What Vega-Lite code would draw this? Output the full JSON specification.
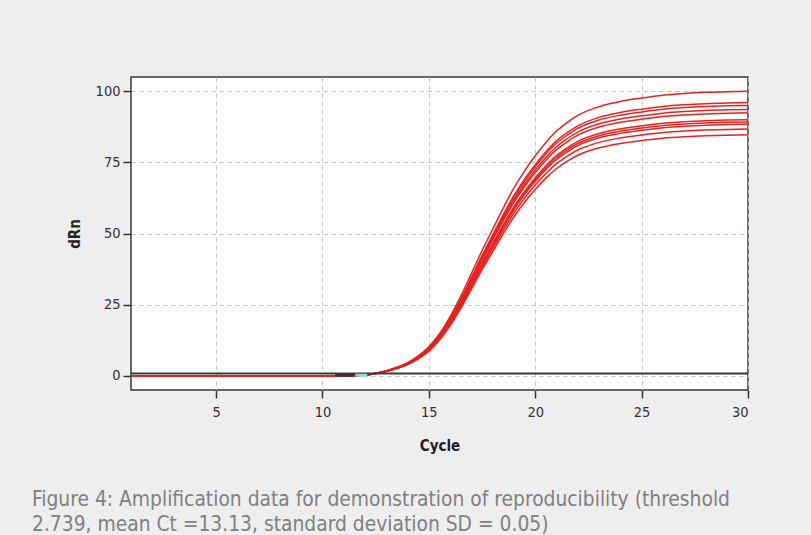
{
  "$schema": "https://vega.github.io/schema/vega-lite/v6.json",
  "autosize": "none",
  "width": 617,
  "height": 313,
  "padding": {"left": 131, "top": 77, "right": 63, "bottom": 145},
  "background": "#eeeeee",
  "config": {
    "view": {"stroke": "#3a3a3a", "strokeWidth": 1.5, "fill": "#ffffff"},
    "axis": {
      "grid": true,
      "gridDash": [4, 4],
      "gridColor": "#c9bfba",
      "gridWidth": 1,
      "domain": false,
      "tickColor": "#333333",
      "tickSize": 8,
      "tickWidth": 1.5,
      "labelFont": "DejaVu Sans Condensed",
      "labelFontSize": 14.5,
      "labelColor": "#333333",
      "titleFont": "DejaVu Sans Condensed",
      "titleFontSize": 15,
      "titleFontWeight": "bold",
      "titleColor": "#222222"
    }
  },
  "title": {
    "text": ["Figure 4: Amplification data for demonstration of reproducibility (threshold", "2.739, mean Ct =13.13, standard deviation SD = 0.05)"],
    "orient": "bottom",
    "anchor": "start",
    "frame": "group",
    "dx": -99,
    "offset": 36,
    "baseline": "top",
    "font": "DejaVu Sans Condensed",
    "fontSize": 20.8,
    "fontWeight": "normal",
    "color": "#808080",
    "lineHeight": 25.5
  },
  "datasets": {
    "curves": [
      {"x": 1, "a": 0, "b": 0, "c": 0, "d": 0, "e": 0, "f": 0, "g": 0, "h": 0, "i": 0, "j": 0},
      {"x": 11, "a": 0, "b": 0, "c": 0, "d": 0, "e": 0, "f": 0, "g": 0, "h": 0, "i": 0, "j": 0},
      {"x": 11.5, "a": 0.1, "b": 0.1, "c": 0.1, "d": 0.1, "e": 0.1, "f": 0.1, "g": 0.1, "h": 0.1, "i": 0.1, "j": 0.1},
      {"x": 12, "a": 0.3, "b": 0.3, "c": 0.3, "d": 0.28, "e": 0.28, "f": 0.27, "g": 0.27, "h": 0.27, "i": 0.26, "j": 0.25},
      {"x": 12.5, "a": 0.9, "b": 0.86, "c": 0.86, "d": 0.84, "e": 0.83, "f": 0.81, "g": 0.8, "h": 0.8, "i": 0.78, "j": 0.76},
      {"x": 13, "a": 1.8, "b": 1.73, "c": 1.71, "d": 1.68, "e": 1.66, "f": 1.62, "g": 1.61, "h": 1.59, "i": 1.56, "j": 1.52},
      {"x": 13.5, "a": 3, "b": 2.88, "c": 2.85, "d": 2.81, "e": 2.77, "f": 2.7, "g": 2.68, "h": 2.65, "i": 2.6, "j": 2.54},
      {"x": 14, "a": 4.6, "b": 4.42, "c": 4.37, "d": 4.31, "e": 4.25, "f": 4.14, "g": 4.1, "h": 4.07, "i": 3.99, "j": 3.9},
      {"x": 14.5, "a": 7, "b": 6.72, "c": 6.65, "d": 6.55, "e": 6.47, "f": 6.3, "g": 6.24, "h": 6.19, "i": 6.07, "j": 5.93},
      {"x": 15, "a": 10.2, "b": 9.79, "c": 9.69, "d": 9.55, "e": 9.42, "f": 9.18, "g": 9.1, "h": 9.02, "i": 8.84, "j": 8.64},
      {"x": 15.5, "a": 14.8, "b": 14.21, "c": 14.06, "d": 13.85, "e": 13.68, "f": 13.32, "g": 13.2, "h": 13.08, "i": 12.83, "j": 12.54},
      {"x": 16, "a": 20.8, "b": 19.97, "c": 19.76, "d": 19.47, "e": 19.22, "f": 18.72, "g": 18.55, "h": 18.39, "i": 18.03, "j": 17.62},
      {"x": 16.5, "a": 28, "b": 26.88, "c": 26.6, "d": 26.21, "e": 25.87, "f": 25.2, "g": 24.98, "h": 24.75, "i": 24.28, "j": 23.72},
      {"x": 17, "a": 36, "b": 34.56, "c": 34.2, "d": 33.7, "e": 33.26, "f": 32.4, "g": 32.11, "h": 31.82, "i": 31.21, "j": 30.49},
      {"x": 17.5, "a": 44, "b": 42.24, "c": 41.8, "d": 41.18, "e": 40.66, "f": 39.6, "g": 39.25, "h": 38.9, "i": 38.15, "j": 37.27},
      {"x": 18, "a": 51.5, "b": 49.44, "c": 48.93, "d": 48.2, "e": 47.59, "f": 46.35, "g": 45.94, "h": 45.53, "i": 44.65, "j": 43.62},
      {"x": 18.5, "a": 59, "b": 56.64, "c": 56.05, "d": 55.22, "e": 54.52, "f": 53.1, "g": 52.63, "h": 52.16, "i": 51.15, "j": 49.97},
      {"x": 19, "a": 66, "b": 63.36, "c": 62.7, "d": 61.78, "e": 60.98, "f": 59.4, "g": 58.87, "h": 58.34, "i": 57.22, "j": 55.9},
      {"x": 19.5, "a": 72, "b": 69.12, "c": 68.4, "d": 67.39, "e": 66.53, "f": 64.8, "g": 64.22, "h": 63.65, "i": 62.42, "j": 60.98},
      {"x": 20, "a": 77.3, "b": 74.21, "c": 73.44, "d": 72.35, "e": 71.43, "f": 69.57, "g": 68.95, "h": 68.33, "i": 67.02, "j": 65.47},
      {"x": 20.5, "a": 82, "b": 78.72, "c": 77.9, "d": 76.75, "e": 75.77, "f": 73.8, "g": 73.14, "h": 72.49, "i": 71.09, "j": 69.45},
      {"x": 21, "a": 86, "b": 82.56, "c": 81.7, "d": 80.5, "e": 79.46, "f": 77.4, "g": 76.71, "h": 76.02, "i": 74.56, "j": 72.84},
      {"x": 21.5, "a": 89, "b": 85.44, "c": 84.55, "d": 83.3, "e": 82.24, "f": 80.1, "g": 79.39, "h": 78.68, "i": 77.16, "j": 75.38},
      {"x": 22, "a": 91.5, "b": 87.84, "c": 86.93, "d": 85.64, "e": 84.55, "f": 82.35, "g": 81.62, "h": 80.89, "i": 79.33, "j": 77.5},
      {"x": 23, "a": 94.6, "b": 90.82, "c": 89.87, "d": 88.55, "e": 87.41, "f": 85.14, "g": 84.38, "h": 83.63, "i": 82.02, "j": 80.13},
      {"x": 24, "a": 96.4, "b": 92.54, "c": 91.58, "d": 90.23, "e": 89.07, "f": 86.76, "g": 85.99, "h": 85.22, "i": 83.58, "j": 81.65},
      {"x": 25, "a": 97.6, "b": 93.7, "c": 92.72, "d": 91.35, "e": 90.18, "f": 87.84, "g": 87.06, "h": 86.28, "i": 84.62, "j": 82.67},
      {"x": 26, "a": 98.6, "b": 94.66, "c": 93.67, "d": 92.29, "e": 91.11, "f": 88.74, "g": 87.95, "h": 87.16, "i": 85.49, "j": 83.51},
      {"x": 27, "a": 99.2, "b": 95.23, "c": 94.24, "d": 92.85, "e": 91.66, "f": 89.28, "g": 88.49, "h": 87.69, "i": 86.01, "j": 84.02},
      {"x": 28, "a": 99.6, "b": 95.62, "c": 94.62, "d": 93.23, "e": 92.03, "f": 89.64, "g": 88.84, "h": 88.05, "i": 86.35, "j": 84.36},
      {"x": 29, "a": 99.85, "b": 95.86, "c": 94.86, "d": 93.46, "e": 92.26, "f": 89.87, "g": 89.07, "h": 88.27, "i": 86.57, "j": 84.57},
      {"x": 30, "a": 100, "b": 96, "c": 95, "d": 93.6, "e": 92.4, "f": 90, "g": 89.2, "h": 88.4, "i": 86.7, "j": 84.7}
    ],
    "threshold": [{"y": 0.8}],
    "segments": [
      {"x": 10.6, "x2": 11.5, "y": 0.2, "k": "baseline end"},
      {"x": 11.55, "x2": 12.1, "y": 0.2, "k": "marker"}
    ]
  },
  "layer": [
    {
      "data": {"name": "curves"},
      "transform": [{"fold": ["a", "b", "c", "d", "e", "f", "g", "h", "i", "j"], "as": ["well", "dRn"]}],
      "mark": {"type": "line", "color": "#e8221e", "strokeWidth": 1.5, "interpolate": "monotone"},
      "encoding": {
        "x": {"field": "x", "type": "quantitative", "title": "Cycle",
              "scale": {"domain": [1, 30], "nice": false, "zero": false},
              "axis": {"values": [5, 10, 15, 20, 25, 30], "labelPadding": 7, "titlePadding": 20}},
        "y": {"field": "dRn", "type": "quantitative", "title": "dRn",
              "scale": {"domain": [-5, 105], "nice": false, "zero": false},
              "axis": {"values": [0, 25, 50, 75, 100], "labelPadding": 3, "titlePadding": 13}},
        "detail": {"field": "well", "type": "nominal"}
      }
    },
    {
      "data": {"name": "threshold"},
      "mark": {"type": "rule", "color": "#3a3a3a", "strokeWidth": 2},
      "encoding": {
        "y": {"field": "y", "type": "quantitative", "title": "dRn"}
      }
    },
    {
      "data": {"name": "segments"},
      "mark": {"type": "rule", "strokeWidth": 3},
      "encoding": {
        "x": {"field": "x", "type": "quantitative", "title": "Cycle"},
        "x2": {"field": "x2"},
        "y": {"field": "y", "type": "quantitative", "title": "dRn"},
        "color": {"field": "k", "type": "nominal", "legend": null,
                  "scale": {"domain": ["baseline end", "marker"], "range": ["#3a2a2a", "#8fd3e8"]}}
      }
    }
  ]
}
